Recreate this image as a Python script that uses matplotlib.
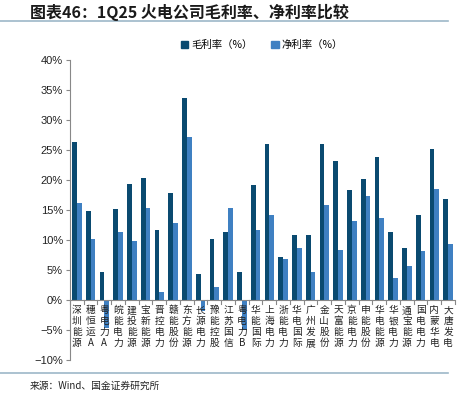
import numpy as np
import matplotlib
matplotlib.use('Agg')
import matplotlib.pyplot as plt
from matplotlib.patches import Rectangle
from matplotlib.lines import Line2D

plt.rcParams['font.family'] = ['Noto Sans CJK SC', 'DejaVu Sans']

companies = ['深圳能源', '穗恒运A', '粤电力A', '皖能电力', '建投能源', '宝新能源', '晋控电力',
             '赣能股份', '东方能源', '长源电力', '豫能控股', '江苏国信', '粤电力B', '华能国际',
             '上海电力', '浙能电力', '华电国际', '广州发展', '金山股份', '天富能源', '京能电力',
             '申能股份', '华电能源', '华银电力', '通宝能源', '国电电力', '内蒙华电', '大唐发电']
gross_margin = [26.4, 14.9, 4.7, 15.2, 19.4, 20.3, 11.7, 17.8, 33.7, 4.4, 10.2, 11.4, 4.7, 19.2,
                26.0, 7.2, 10.9, 10.8, 26.0, 23.2, 18.3, 20.2, 23.8, 11.3, 8.7, 14.1, 25.2, 16.9]
net_margin = [16.2, 10.2, -4.7, 11.3, 9.8, 15.3, 1.3, 12.9, 27.1, -1.9, 2.1, 15.3, -5.0, 11.7,
              14.2, 6.9, 8.7, 4.6, 15.8, 8.3, 13.2, 17.4, 13.6, 3.7, 5.6, 8.2, 18.5, 9.3]
yticks = [-10, -5, 0, 5, 10, 15, 20, 25, 30, 35, 40]

dark = '#0A4A70'
light = '#3F80C2'

fig = plt.figure(figsize=(4.64, 3.98), dpi=100)
ax = fig.add_axes([70 / 464, 1 - 360 / 398, 385 / 464, 300 / 398])

x = np.arange(len(companies))
w = 0.34
ax.bar(x - w / 2, gross_margin, width=w, color=dark, linewidth=0)
ax.bar(x + w / 2, net_margin, width=w, color=light, linewidth=0)

ax.set_xlim(-0.5, len(companies) - 0.5)
ax.set_ylim(-10, 40)
ax.set_yticks(yticks)
ax.set_yticklabels([f'{v}%'.replace('-', '\u2212') for v in yticks],
                   fontsize=8, family=['Liberation Sans', 'DejaVu Sans'], color='#222222')
ax.tick_params(axis='y', length=3, color='#888888', width=0.8, pad=2)
ax.set_xticks([])

for s in ['top', 'right', 'bottom']:
    ax.spines[s].set_visible(False)
ax.spines['left'].set_color('#888888')
ax.spines['left'].set_linewidth(0.8)

# zero line with category ticks
ax.axhline(0, color='#888888', lw=0.8, zorder=3)
for b in np.arange(-0.5, len(companies), 1.0):
    ax.plot([b, b], [0, -0.6], color='#888888', lw=0.8, clip_on=False, zorder=3)

for i, name in enumerate(companies):
    ax.text(i, -0.9, '\n'.join(name), ha='center', va='top', fontsize=7,
            linespacing=1.1, color='#222222')

# legend
leg_handles = [Rectangle((0, 0), 1, 1, color=dark), Rectangle((0, 0), 1, 1, color=light)]
fig.legend(leg_handles, ['毛利率（%）', '净利率（%）'], loc='center', bbox_to_anchor=(262 / 464, 1 - 45 / 398),
           ncol=2, frameon=False, fontsize=7.5, handlelength=0.7, handleheight=0.7,
           handletextpad=0.3, columnspacing=1.8)

# title and source
fig.text(30 / 464, 1 - 12 / 398, '图表46：1Q25 火电公司毛利率、净利率比较', fontsize=11.5,
         fontweight='bold', style='italic', va='center', ha='left', color='#1a1a1a')
fig.add_artist(Line2D([0, 448 / 464], [1 - 21 / 398, 1 - 21 / 398], color='#9DB8C8', lw=1.2))
fig.add_artist(Line2D([0, 448 / 464], [1 - 373 / 398, 1 - 373 / 398], color='#9DB8C8', lw=1.2))
fig.text(30 / 464, 1 - 386 / 398, '来源：Wind、国金证券研究所', fontsize=7, va='center', ha='left',
         color='#222222')

fig.savefig('out.png', dpi=100)
